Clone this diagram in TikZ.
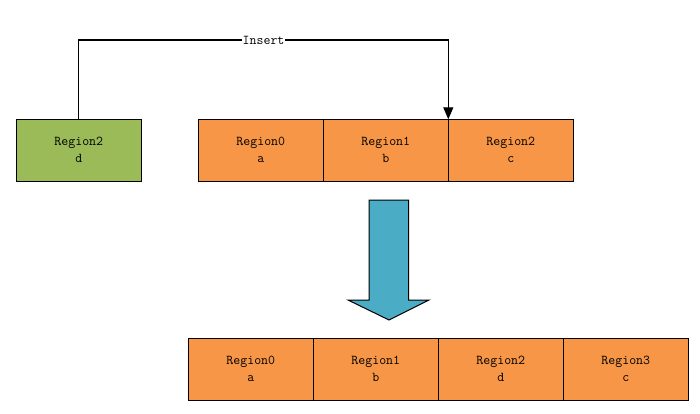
\documentclass[tikz,border=0pt]{standalone}
\usepackage{fontspec}
\usepackage{xcolor}
\usepackage{tikz}
\usetikzlibrary{positioning,arrows.meta}

\definecolor{regorange}{HTML}{F79646}
\definecolor{reggreen}{HTML}{9BBB59}
\definecolor{regblue}{HTML}{4BACC6}

\tikzset{
    region/.style={draw, line width=1.1pt, fill=regorange, minimum width=125pt,
        minimum height=62pt, inner sep=0pt, outer sep=0pt, align=center,
        font=\ttfamily\fontsize{13.5}{17}\selectfont},
    newregion/.style={region, fill=reggreen}
}

\begin{document}
\begin{tikzpicture}[x=1pt,y=-1pt]
        \useasboundingbox (0,0) rectangle (700,414);
        % before the insert
        \node[newregion] (new) at (78.8,150.3) {Region2\\d};
        \node[region] (a0) at (260.8,150.3) {Region0\\a};
        \node[region, right=0pt of a0] (a1) {Region1\\b};
        \node[region, right=0pt of a1] (a2) {Region2\\c};
        \coordinate (up) at (78.8,40);
        \draw[line width=1.1pt, -{Triangle[width=10pt,length=12pt]}]
            (new.north) -- (up) -| node[pos=0.25, fill=white, inner sep=1pt,
            font=\ttfamily\fontsize{13.5}{15}\selectfont]{Insert} (a1.north east);
        % big arrow
        \draw[fill=regblue, line width=1pt] (369,200) -- (408.5,200) -- (408.5,300) -- (429,300)
            -- (389,320) -- (348,300) -- (369,300) -- cycle;
        % after the insert
        \node[region] (b0) at (250.8,369.2) {Region0\\a};
        \node[region, right=0pt of b0] (b1) {Region1\\b};
        \node[region, right=0pt of b1] (b2) {Region2\\d};
        \node[region, right=0pt of b2] (b3) {Region3\\c};
    \end{tikzpicture}
\end{document}
